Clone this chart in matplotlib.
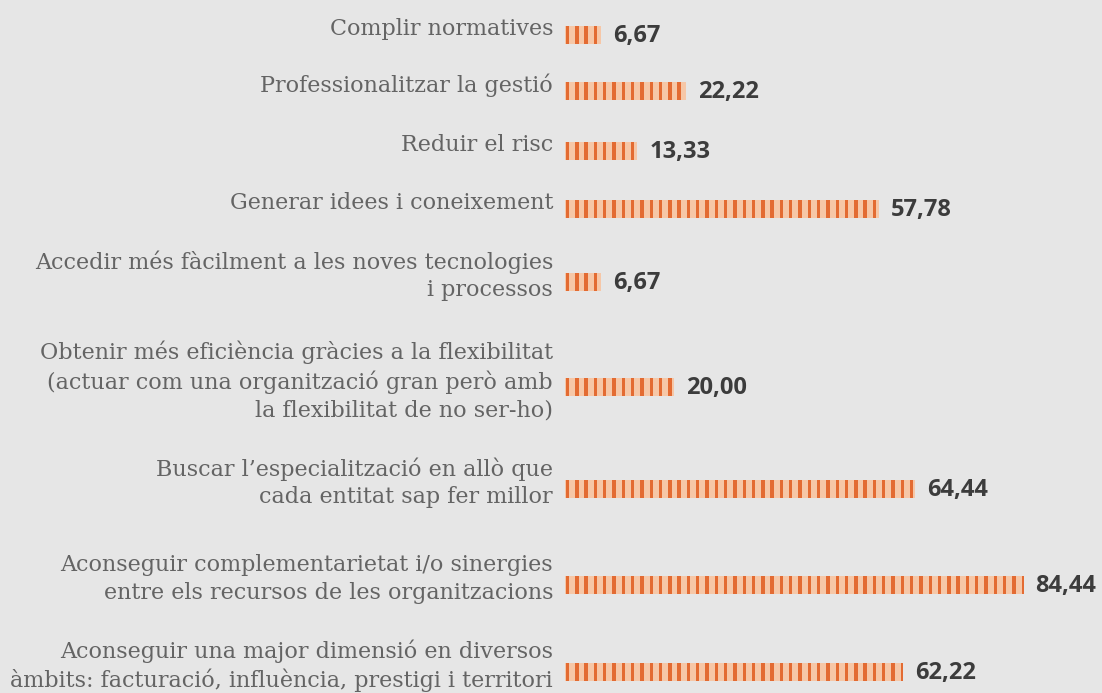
import numpy as np
import matplotlib
matplotlib.use("Agg")
import matplotlib.pyplot as plt

# motius per cooperar (%)
categories = [
    "Complir normatives",
    "Professionalitzar la gestió",
    "Reduir el risc",
    "Generar idees i coneixement",
    "Accedir més fàcilment a les noves tecnologies\ni processos",
    "Obtenir més eficiència gràcies a la flexibilitat\n(actuar com una organització gran però amb\nla flexibilitat de no ser-ho)",
    "Buscar l’especialització en allò que\ncada entitat sap fer millor",
    "Aconseguir complementarietat i/o sinergies\nentre els recursos de les organitzacions",
    "Aconseguir una major dimensió en diversos\nàmbits: facturació, influència, prestigi i territori",
]
values = [6.67, 22.22, 13.33, 57.78, 6.67, 20.00, 64.44, 84.44, 62.22]
value_labels = ["6,67", "22,22", "13,33", "57,78", "6,67", "20,00", "64,44", "84,44", "62,22"]

# centre vertical de cada fila (px des de dalt)
row_y = [35, 91, 151, 209, 282, 387, 489, 585, 672]

W, H = 1102, 693
x0 = 565          # inici de les barres (px)
px_unit = 5.43    # px per punt percentual
bar_h = 18

bg = "#e6e6e6"
light = "#f6c7a7"
dark = "#e36b32"

fig = plt.figure(figsize=(W / 100, H / 100), dpi=100, facecolor=bg)
ax = fig.add_axes([0, 0, 1, 1])
ax.set_facecolor(bg)
ax.set_xlim(-x0 / px_unit, (W - x0) / px_unit)
ax.set_ylim(H, 0)
ax.axis("off")

period = 9.3 / px_unit
stripe_w = 3.4 / px_unit

for cat, v, lab, y in zip(categories, values, value_labels, row_y):
    ax.barh(y, v, height=bar_h, color=light, linewidth=0)
    starts = np.arange(0.15, v - stripe_w * 0.5, period)
    widths = np.minimum(stripe_w, v - starts)
    ax.barh(np.full(len(starts), y), widths, left=starts, height=bar_h,
            color=dark, linewidth=0)
    ax.text(-12 / px_unit, y - 6, cat, ha="right", va="center",
            family="DejaVu Serif", fontsize=16, color="#646464",
            linespacing=1.32)
    ax.text(v + 12 / px_unit, y + 1, lab, ha="left", va="center",
            family="Open Sans", fontweight="bold", fontsize=17, color="#3c3c3c")

fig.savefig("out.png", dpi=100, facecolor=bg)
